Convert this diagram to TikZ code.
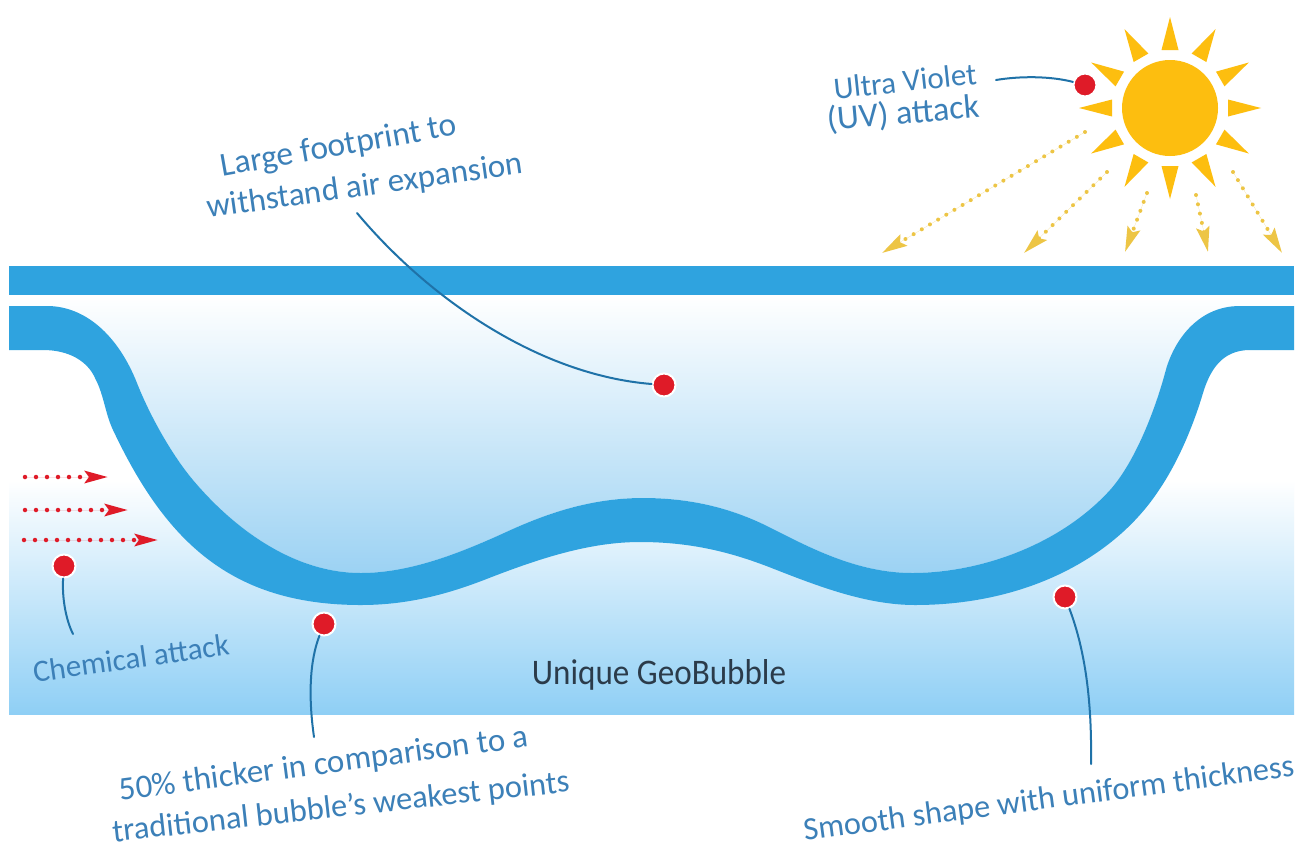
\documentclass[tikz,border=0pt]{standalone}
\usepackage{fontspec}
\setmainfont{Carlito}
\usetikzlibrary{arrows.meta}
\definecolor{strip}{HTML}{2FA3DF}
\definecolor{panelblue}{HTML}{8FCFF5}
\definecolor{innerblue}{HTML}{9CD2F3}
\definecolor{sun}{HTML}{FDBE0F}
\definecolor{ray}{HTML}{EDC545}
\definecolor{dotred}{HTML}{DF1B28}
\definecolor{ink}{HTML}{3C80B8}
\definecolor{lead}{HTML}{1F72A8}
\definecolor{titleink}{HTML}{2B3B4A}
\def\upperedge{(9,306) -- (47,306)
 .. controls (85,306) and (118,335) .. (137,383)
 .. controls (150,416) and (172,455) .. (193,480)
 .. controls (230,524) and (290,573) .. (361,573)
 .. controls (410,573) and (460,553) .. (504,533)
 .. controls (545,514) and (590,498) .. (643,498)
 .. controls (695,498) and (735,510) .. (769,527)
 .. controls (805,545) and (855,573) .. (912,573)
 .. controls (980,573) and (1060,545) .. (1110,490)
 .. controls (1135,462) and (1155,410) .. (1165,373)
 .. controls (1172,345) and (1195,306) .. (1240,306) -- (1294,306)}
\def\loweredge{-- (1294,350) -- (1250,350)
 .. controls (1222,350) and (1210,370) .. (1203,393)
 .. controls (1195,420) and (1180,460) .. (1157,493)
 .. controls (1115,555) and (1030,605) .. (915,605)
 .. controls (865,605) and (815,585) .. (769,567)
 .. controls (735,554) and (695,542) .. (640,542)
 .. controls (590,542) and (540,558) .. (484,580)
 .. controls (450,593) and (410,605) .. (361,605)
 .. controls (230,605) and (165,540) .. (113,430)
 .. controls (105,413) and (104,395) .. (95,378)
 .. controls (88,362) and (70,350) .. (43,350) -- (9,350) -- cycle}
\tikzset{
  pin/.style={circle,fill=dotred,draw=white,line width=2pt,minimum size=23pt,inner sep=0pt},
  leader/.style={draw=lead,line width=2pt,line cap=round},
  hand/.style={text=ink,font=\fontsize{#1}{#1}\selectfont,inner sep=0pt},
  sunray/.style={-{Stealth[length=25pt,width=13pt,inset=4pt]},draw=ray,fill=ray,line width=4pt,dash pattern=on 0pt off 9.5pt,line cap=round},
  redray/.style={-{Stealth[length=23pt,width=12pt,inset=4pt]},draw=dotred,fill=dotred,line width=4.5pt,dash pattern=on 0pt off 11pt,line cap=round},
}
\begin{document}
\begin{tikzpicture}[x=1pt,y=-1pt]
\useasboundingbox (0,0) rectangle (1313,849);
\fill[white] (0,0) rectangle (1313,849);
% lower panel
\shade[top color=white,bottom color=panelblue] (9,480) rectangle (1294,714);
% inside of the bubble
\shade[top color=white,bottom color=innerblue] (9,296) -- \upperedge -- (1294,296) -- cycle;
\fill[strip] (9,266) rectangle (1294,295);
\fill[strip] \upperedge \loweredge;
% sun
\node[circle,fill=sun,minimum size=96pt,inner sep=0pt] (sunball) at (1170,108) {};
\foreach \a in {0,30,...,330}{
  \begin{scope}[shift={(1170,108)},rotate=\a]
    \fill[sun] (91,0) -- (58,8.5) -- (58,-8.5) -- cycle;
  \end{scope}
}
\coordinate (s1a) at (1085,132); \coordinate (s1b) at (882,253);
\coordinate (s2a) at (1107,172); \coordinate (s2b) at (1024,253);
\coordinate (s3a) at (1147,193); \coordinate (s3b) at (1125,252);
\coordinate (s4a) at (1196,195); \coordinate (s4b) at (1208,252);
\coordinate (s5a) at (1233,172); \coordinate (s5b) at (1282,253);
\draw[sunray] (s1a) -- (s1b);
\draw[sunray] (s2a) -- (s2b);
\draw[sunray] (s3a) -- (s3b);
\draw[sunray] (s4a) -- (s4b);
\draw[sunray] (s5a) -- (s5b);
% chemical arrows
\coordinate (r1a) at (25,477); \coordinate (r1b) at (108,477);
\coordinate (r2a) at (25,510); \coordinate (r2b) at (128,510);
\coordinate (r3a) at (24,540); \coordinate (r3b) at (158,540);
\draw[redray] (r1a) -- (r1b);
\draw[redray] (r2a) -- (r2b);
\draw[redray] (r3a) -- (r3b);
% pins
\node[pin] (uv) at (1085,85) {};
\node[pin] (foot) at (664,385) {};
\node[pin] (chem) at (64,566) {};
\node[pin] (thick) at (324,624) {};
\node[pin] (smooth) at (1065,597) {};
% leader ends
\coordinate (uvend) at (996,80);
\coordinate (footend) at (357,213);
\coordinate (chemend) at (73,634);
\coordinate (thickend) at (314,737);
\coordinate (smoothend) at (1091,764);
\draw[leader] (uvend) .. controls (1020,76) and (1050,76) .. (uv);
\draw[leader] (footend) .. controls (430,300) and (540,375) .. (foot);
\draw[leader] (chem) .. controls (62,595) and (65,618) .. (chemend);
\draw[leader] (thick) .. controls (310,660) and (308,695) .. (thickend);
\draw[leader] (smooth) .. controls (1085,650) and (1092,700) .. (smoothend);
% labels
\node[hand=31,rotate=6] (t1) at (905,81) {Ultra Violet};
\node[hand=34,rotate=5] (t2) at (903,114) {(UV) attack};
\node[hand=33.5,rotate=10] (t3) at (339,147) {Large footprint to};
\node[hand=33,rotate=8] (t4) at (365,187) {withstand air expansion};
\node[hand=31,rotate=8] (t5) at (131,658) {Chemical attack};
\node[hand=33,rotate=7.5] (t6) at (324,765) {50\% thicker in comparison to a};
\node[hand=32.5,rotate=6.3] (t7) at (341,808) {traditional bubble's weakest points};
\node[hand=32.3,rotate=7.5] (t8) at (1049,800) {Smooth shape with uniform thickness};
\node[font=\fontsize{36}{36}\selectfont,text=titleink,inner sep=0pt] (title) at (659,675) {\scalebox{.92}[1]{Unique GeoBubble}};
\end{tikzpicture}
\end{document}
